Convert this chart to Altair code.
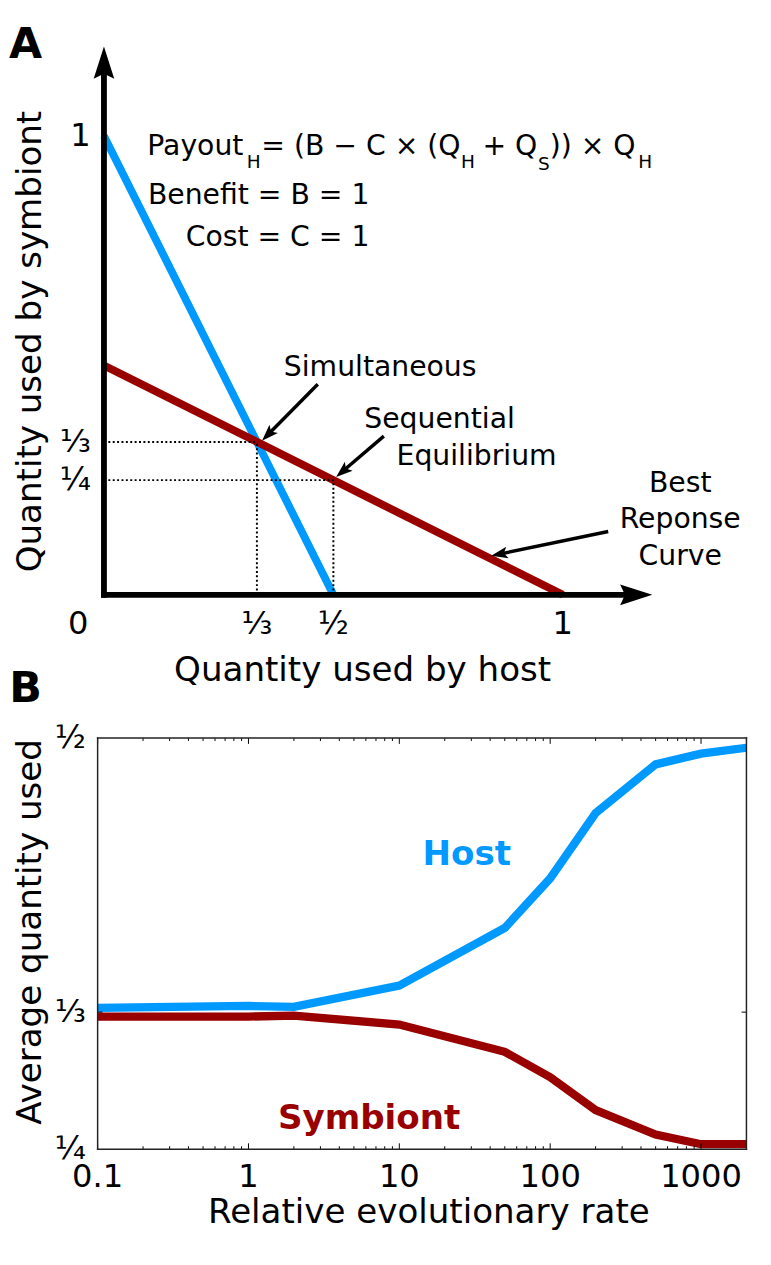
import math
import altair as alt
import pandas as pd

FONT = "DejaVu Sans"
BLUE = "#0099ff"
RED = "#990000"

# ---------------- Panel A data ----------------
host_line_x = [0.0, 0.5]        # host best-response (blue)
host_line_y = [1.0, 0.0]
best_resp_x = [0.0, 1.0]        # best response curve (red)
best_resp_y = [0.5, 0.0]
eq_x = [1 / 3, 1 / 2]           # simultaneous, sequential equilibrium
eq_y = [1 / 3, 1 / 4]
a_xticks = [1 / 3, 1 / 2, 1.0]
a_xtick_labels = ["⅓", "½", "1"]
a_yticks = [1 / 4, 1 / 3, 1.0]
a_ytick_labels = ["¼", "⅓", "1"]
axis_end = 1.195
# annotation arrows: start -> tip (data units)
arrow_start_x = [0.466, 0.610, 1.099]
arrow_start_y = [0.459, 0.346, 0.138]
arrow_tip_x = [0.3445, 0.506, 0.844]
arrow_tip_y = [0.336, 0.257, 0.085]

# ---------------- Panel B data ----------------
rate = [0.1, 1, 2, 10, 50, 100, 200, 500, 1000, 2000]
host_q = [0.3359, 0.3371, 0.3365, 0.3495, 0.3845, 0.4147, 0.4544, 0.4840, 0.4905, 0.4941]
sym_q = [0.3306, 0.3306, 0.3312, 0.3258, 0.3092, 0.2938, 0.2737, 0.2589, 0.2530, 0.2530]
b_xticks = [0.1, 1, 10, 100, 1000]
b_xtick_labels = ["0.1", "1", "10", "100", "1000"]
b_yticks = [0.25, 1 / 3, 0.5]
b_ytick_labels = ["¼", "⅓", "½"]
b_minor = [round(k * 10.0 ** e, 4) for e in range(-1, 4) for k in range(2, 10) if k * 10 ** e < 2000]
host_label_pos = [28.0, 0.4295]
sym_label_pos = [6.3, 0.2690]

# ---------------- geometry ----------------
PX = 471.0                       # pixels per unit in panel A
A_OX, A_OY = 104, 33             # page position of panel A plot origin
A_W, A_H = 572, 565
xa0 = -(110.5 - A_OX) / PX
xa1 = xa0 + A_W / PX
ya1 = A_H / PX
B_OX, B_OY = 104, 745
B_W, B_H = 666, 422
B_XMIN, B_XMAX = 0.1, 2000.0
B_YMIN, B_YMAX = 0.25, 0.5
B_PXY = B_H / (B_YMAX - B_YMIN)                       # px per unit (y)
B_PXD = B_W / math.log10(B_XMAX / B_XMIN)             # px per decade (x)

one = pd.DataFrame({"k": [0]})

xsA = alt.Scale(domain=[xa0, xa1], nice=False, zero=False)
ysA = alt.Scale(domain=[0, ya1], nice=False, zero=False)


def XA(f):
    return alt.X(f, scale=xsA, axis=None)


def YA(f):
    return alt.Y(f, scale=ysA, axis=None)


def txt(ox, oy, px, py, s, size, **kw):
    props = dict(text=s, fontSize=size, font=FONT, color="black")
    props.update(kw)
    return alt.Chart(one).mark_text(**props).encode(
        x=alt.value(px - ox), y=alt.value(py - oy))


def lineA(xs, ys, col):
    d = pd.DataFrame({"x": xs, "y": ys})
    return alt.Chart(d).mark_line(strokeWidth=8, strokeCap="butt", color=col).encode(
        x=XA("x:Q"), y=YA("y:Q"))


host_layer = lineA(host_line_x, host_line_y, BLUE)
best_layer = lineA(best_resp_x, best_resp_y, RED)

guides = pd.DataFrame({
    "x": [0.0, 0.0] + eq_x,
    "x2": eq_x + eq_x,
    "y": eq_y + [0.0, 0.0],
    "y2": eq_y + eq_y,
})
guide_layer = alt.Chart(guides).mark_rule(
    color="black", strokeWidth=2, strokeDash=[2, 2.5]).encode(
    x=XA("x:Q"), x2="x2:Q", y=YA("y:Q"), y2="y2:Q")

ax_df = pd.DataFrame({"x": [0.0, 0.0], "x2": [axis_end - 0.03, 0.0],
                      "y": [0.0, 0.0], "y2": [0.0, axis_end - 0.03]})
axis_layer = alt.Chart(ax_df).mark_rule(
    color="black", strokeWidth=6, strokeCap="square").encode(
    x=XA("x:Q"), x2="x2:Q", y=YA("y:Q"), y2="y2:Q")

AX_HEAD = "M0,-1L0.64,1L0,0.7L-0.64,1Z"
ARR_HEAD = "M0,-1L0.72,1L0,0.55L-0.72,1Z"
ax_len = 33.0


def head(x, y, ang, path, size):
    d = pd.DataFrame({"x": [x], "y": [y]})
    return alt.Chart(d).mark_point(
        shape=path, filled=True, color="black", opacity=1, strokeWidth=0,
        size=size, angle=ang).encode(x=XA("x:Q"), y=YA("y:Q"))


ax_heads = [
    head(0.0, axis_end - ax_len / 2 / PX, 0, AX_HEAD, ax_len ** 2),
    head(axis_end - ax_len / 2 / PX, 0.0, 90, AX_HEAD, ax_len ** 2),
]

head_len = 17.0
rows = []
arrow_heads = []
for sx, sy, tx, ty in zip(arrow_start_x, arrow_start_y, arrow_tip_x, arrow_tip_y):
    dx, dy = tx - sx, ty - sy
    n = math.hypot(dx, dy)
    ux, uy = dx / n, dy / n
    cx = tx - ux * head_len / 2 / PX
    cy = ty - uy * head_len / 2 / PX
    ang = round(math.degrees(math.atan2(ux, uy)) % 360, 2)
    rows.append({"sx": sx, "sy": sy, "cx": cx, "cy": cy})
    arrow_heads.append(head(cx, cy, ang, ARR_HEAD, head_len ** 2))
arr = pd.DataFrame(rows)
arrow_line_layer = alt.Chart(arr).mark_rule(color="black", strokeWidth=3.5).encode(
    x=XA("sx:Q"), y=YA("sy:Q"), x2="cx:Q", y2="cy:Q")

xt = pd.DataFrame({"v": a_xticks, "t": a_xtick_labels})
xt_layer = alt.Chart(xt).mark_text(font=FONT, fontSize=33, baseline="middle", color="black").encode(
    x=XA("v:Q"), y=alt.value(628 - A_OY), text="t:N")
yt = pd.DataFrame({"v": a_yticks, "t": a_ytick_labels})
yt_layer = alt.Chart(yt).transform_calculate(lx=str(-(110.5 - 97) / PX)).mark_text(
    font=FONT, fontSize=33, baseline="middle", align="right", color="black").encode(
    x=XA("lx:Q"), y=YA("v:Q"), text="t:N")

a_texts = [
    txt(A_OX, A_OY, 84, 628, "0", 33, baseline="middle"),
    txt(A_OX, A_OY, 30, 34, "A", 44, fontWeight="bold", baseline="middle"),
    txt(A_OX, A_OY, 155, 147, "Payout", 29, align="left", baseline="alphabetic"),
    txt(A_OX, A_OY, 257, 160, "H", 19, align="left", baseline="alphabetic"),
    txt(A_OX, A_OY, 272, 147, "= (B − C × (Q", 29, align="left", baseline="alphabetic"),
    txt(A_OX, A_OY, 477, 160, "H", 19, align="left", baseline="alphabetic"),
    txt(A_OX, A_OY, 499, 147, "+ Q", 29, align="left", baseline="alphabetic"),
    txt(A_OX, A_OY, 556, 162, "S", 19, align="left", baseline="alphabetic"),
    txt(A_OX, A_OY, 568, 147, ")) × Q", 29, align="left", baseline="alphabetic"),
    txt(A_OX, A_OY, 659, 160, "H", 19, align="left", baseline="alphabetic"),
    txt(A_OX, A_OY, 383, 197, "Benefit = B = 1", 29, align="right", baseline="alphabetic"),
    txt(A_OX, A_OY, 383, 240, "Cost = C = 1", 29, align="right", baseline="alphabetic"),
    txt(A_OX, A_OY, 394, 373, "Simultaneous", 29, baseline="alphabetic"),
    txt(A_OX, A_OY, 455, 427, "Sequential", 29, baseline="alphabetic"),
    txt(A_OX, A_OY, 493, 465, "Equilibrium", 29, baseline="alphabetic"),
    txt(A_OX, A_OY, 702, 492, "Best", 29, baseline="alphabetic"),
    txt(A_OX, A_OY, 702, 529, "Reponse", 29, baseline="alphabetic"),
    txt(A_OX, A_OY, 702, 567, "Curve", 29, baseline="alphabetic"),
    txt(A_OX, A_OY, 376, 675, "Quantity used by host", 35, baseline="middle"),
    txt(A_OX, A_OY, 35, 338, "Quantity used by symbiont", 35, baseline="middle", angle=270),
    txt(A_OX, A_OY, 30, 695, "B", 44, fontWeight="bold", baseline="middle"),
    txt(A_OX, A_OY, 444, 1232, "Relative evolutionary rate", 35, baseline="middle"),
    txt(A_OX, A_OY, 35, 944, "Average quantity used", 35, baseline="middle", angle=270),
]

panelA = alt.layer(
    host_layer, best_layer, guide_layer, axis_layer, *ax_heads,
    arrow_line_layer, *arrow_heads, xt_layer, yt_layer, *a_texts
).properties(width=A_W, height=A_H)

# ---------------- Panel B (log10 of rate on a linear scale) ----------------
LOG = "log(datum.{f})/LN10"
xsB = alt.Scale(domain=[math.log10(B_XMIN), math.log10(B_XMAX)], nice=False, zero=False)
ysB = alt.Scale(domain=[B_YMIN, B_YMAX], nice=False, zero=False)


def XB(f):
    return alt.X(f, scale=xsB, axis=None)


def YB(f):
    return alt.Y(f, scale=ysB, axis=None)


def lineB(qs, col):
    d = pd.DataFrame({"rate": rate, "q": qs})
    return alt.Chart(d).transform_calculate(lx=LOG.format(f="rate")).mark_line(
        strokeWidth=8.5, color=col).encode(x=XB("lx:Q"), y=YB("q:Q"))


host_b = lineB(host_q, BLUE)
sym_b = lineB(sym_q, RED)

trows = []
for vals, lpx in ((b_xticks, 6.0), (b_minor, 3.0)):
    ln = lpx / B_PXY
    for v in vals:
        trows += [{"x": v, "x2": v, "y": B_YMAX, "y2": B_YMAX - ln},
                  {"x": v, "x2": v, "y": B_YMIN, "y2": B_YMIN + ln}]
fx = 10 ** (5.0 / B_PXD)
trows += [{"x": B_XMIN, "x2": B_XMIN * fx, "y": 1 / 3, "y2": 1 / 3},
          {"x": B_XMAX, "x2": B_XMAX / fx, "y": 1 / 3, "y2": 1 / 3}]
ticks = pd.DataFrame(trows)
tick_layer = alt.Chart(ticks).transform_calculate(
    lx=LOG.format(f="x"), lx2=LOG.format(f="x2")).mark_rule(color="black", strokeWidth=1).encode(
    x=XB("lx:Q"), x2="lx2:Q", y=YB("y:Q"), y2="y2:Q")

frame_df = pd.DataFrame({
    "x": [B_XMIN, B_XMIN, B_XMIN, B_XMAX],
    "x2": [B_XMAX, B_XMAX, B_XMIN, B_XMAX],
    "y": [B_YMIN, B_YMAX, B_YMIN, B_YMIN],
    "y2": [B_YMIN, B_YMAX, B_YMAX, B_YMAX],
})
frame_layer = alt.Chart(frame_df).transform_calculate(
    lx=LOG.format(f="x"), lx2=LOG.format(f="x2")).mark_rule(
    color="#222222", strokeWidth=1.5, strokeCap="square").encode(
    x=XB("lx:Q"), x2="lx2:Q", y=YB("y:Q"), y2="y2:Q")

bxt = pd.DataFrame({"v": b_xticks, "t": b_xtick_labels})
bxt_layer = alt.Chart(bxt).transform_calculate(lx=LOG.format(f="v")).mark_text(
    font=FONT, fontSize=33, baseline="middle", color="black").encode(
    x=XB("lx:Q"), y=alt.value(1196 - B_OY), text="t:N")
byt = pd.DataFrame({"v": b_yticks, "t": b_ytick_labels})
byt_layer = alt.Chart(byt).transform_calculate(
    lx=str(math.log10(B_XMIN) - (B_OX - 92) / B_PXD)).mark_text(
    font=FONT, fontSize=33, baseline="middle", align="right", color="black").encode(
    x=XB("lx:Q"), y=YB("v:Q"), text="t:N")


def labelB(pos, s, col):
    d = pd.DataFrame({"r": [pos[0]], "q": [pos[1]]})
    return alt.Chart(d).transform_calculate(lx=LOG.format(f="r")).mark_text(
        text=s, font=FONT, fontSize=35, fontWeight="bold", baseline="middle", color=col).encode(
        x=XB("lx:Q"), y=YB("q:Q"))


panelB = alt.layer(
    host_b, sym_b, tick_layer, frame_layer, bxt_layer, byt_layer,
    labelB(host_label_pos, "Host", BLUE), labelB(sym_label_pos, "Symbiont", RED)
).properties(width=B_W, height=B_H)

chart = alt.vconcat(panelA, panelB, spacing=B_OY - (A_OY + A_H), bounds="flush").properties(
    padding={"left": 0, "top": 0, "right": 0, "bottom": 0}
).configure_view(stroke=None)

chart.save("out.html", embed_options={"renderer": "svg", "actions": False})
